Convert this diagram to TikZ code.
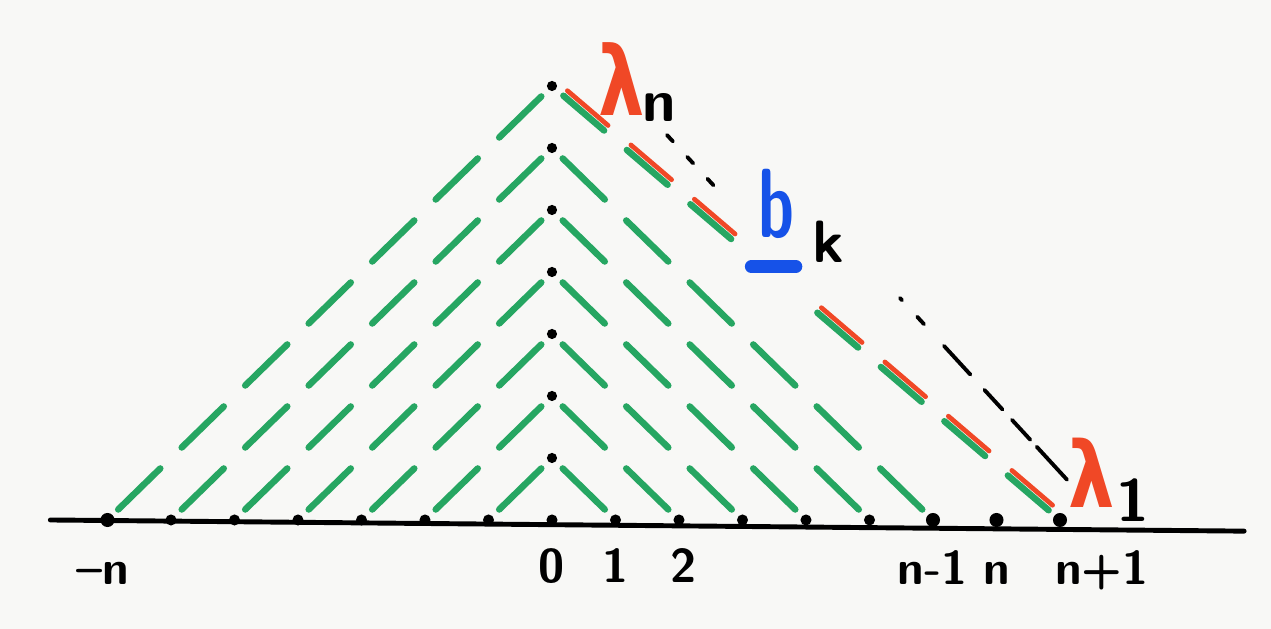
\documentclass[tikz,border=0pt]{standalone}
\usepackage{fontspec}
\newfontfamily\lamfont{DejaVu Sans}
\usetikzlibrary{positioning}
\definecolor{ticgreen}{RGB}{38,166,98}
\definecolor{lamred}{RGB}{240,72,38}
\definecolor{bblue}{RGB}{22,82,232}
\definecolor{paper}{RGB}{248,248,246}

\begin{document}
\begin{tikzpicture}[x=1.27cm, y=1.24cm,
    every node/.style={font=\fontsize{27}{30}\selectfont\sffamily\bfseries},
    tic/.style={draw=ticgreen, line width=3.7pt, line cap=round, shorten <=3mm, shorten >=3mm},
    rtic/.style={draw=lamred, line width=2.7pt, line cap=round, shorten <=3mm, shorten >=3mm, xshift=0.8mm, yshift=1mm},
    blk/.style={draw=black, line width=2.2pt, line cap=round},
    dot/.style={circle, fill=black, inner sep=0pt, minimum size=6.3pt},
    bigdot/.style={dot, minimum size=8pt},
    lbl/.style={inner sep=0pt, text height=18pt, text depth=0pt},
    lam/.style={font=\fontsize{52}{52}\lamfont\bfseries, text=lamred, inner sep=0pt},
    sub/.style={font=\fontsize{34}{34}\selectfont\sffamily\bfseries, inner sep=0pt}]
\useasboundingbox[fill=paper] (-8.693,-1.758) rectangle (11.323,8.387);
\coordinate (axw) at (-7.9,0);
\coordinate (axe) at (10.9,-0.18);
\draw[line width=2.8pt, line cap=round] (axw) -- (axe);
\foreach \j in {0,...,6}{
  \pgfmathtruncatemacro\ilo{\j-7}
  \foreach \i in {\ilo,...,-1}
    \draw[tic] (\i,\j) -- (\i+1,\j+1);
}
\foreach \j in {0,...,5}{
  \pgfmathtruncatemacro\ihi{5-\j}
  \foreach \i in {0,...,\ihi}
    \draw[tic] (\i,\j+1) -- (\i+1,\j);
}
\foreach \k in {0,1,2,4,5,6,7}{
  \draw[tic]  (\k,{7-7*\k/8}) -- (\k+1,{7-7*(\k+1)/8});
  \draw[rtic] (\k,{7-7*\k/8}) -- (\k+1,{7-7*(\k+1)/8});
}
\foreach \i in {-6,...,5} \node[dot] (a\i) at (\i,0) {};
\foreach \i in {-7,6,7,8} \node[bigdot] (a\i) at (\i,0) {};
\foreach \j in {1,...,7} \node[dot, minimum size=5.8pt] (v\j) at (0,\j) {};
\node[lbl, below=5mm of a-7, xshift=-1mm] (lmn) {\textendash n};
\node[lbl, below=5mm of a0]  (l0)  {0};
\node[lbl, below=5mm of a1]  (l1)  {1};
\node[lbl, below=5mm of a2, xshift=1mm]  (l2)  {2};
\node[lbl, below=5mm of a6]  (lnm) {n-1};
\node[lbl, below=5mm of a7]  (ln)  {n};
\node[lbl, below=5mm of a8, anchor=north west, xshift=-1mm] (lnp) {n+1};
\node[lam, anchor=base west] (lamn) at (0.72,6.52) {\scalebox{0.8}[1.05]{λ}};
\node[sub, anchor=base west] (lamnsub) at (1.42,6.42) {n};
\node[lam, anchor=base west] (lam1) at (8.13,0.2) {\scalebox{0.8}[1]{λ}};
\node[sub, anchor=base west] (lam1sub) at (8.88,-0.03) {1};
\node[font=\fontsize{56}{56}\selectfont\sffamily\bfseries, text=bblue, inner sep=0pt, anchor=base] (bk) at (3.54,4.56) {\scalebox{0.65}[1]{b}};
\draw[draw=bblue, line width=7.4pt, line cap=round] ([shift={(-0.4,-0.45)}]bk.south) -- ([shift={(0.3,-0.45)}]bk.south);
\node[sub, anchor=base west] (bsub) at (4.1,4.15) {k};
\coordinate (dotsA) at (1.81,6.21);
\coordinate (dotsB) at (2.65,5.28);
\coordinate (dashA) at (5.48,3.58);
\coordinate (dashB) at (8.11,0.65);
\draw[blk, dash pattern=on 5pt off 12pt] (dotsA) -- (dotsB);
\draw[blk, dash pattern=on 1.7pt off 12.8pt on 5.7pt off 16.8pt on 22.2pt off 11.8pt on 15.2pt off 8pt on 15.4pt off 5.4pt on 30pt] (dashA) -- (dashB);
\end{tikzpicture}
\end{document}
